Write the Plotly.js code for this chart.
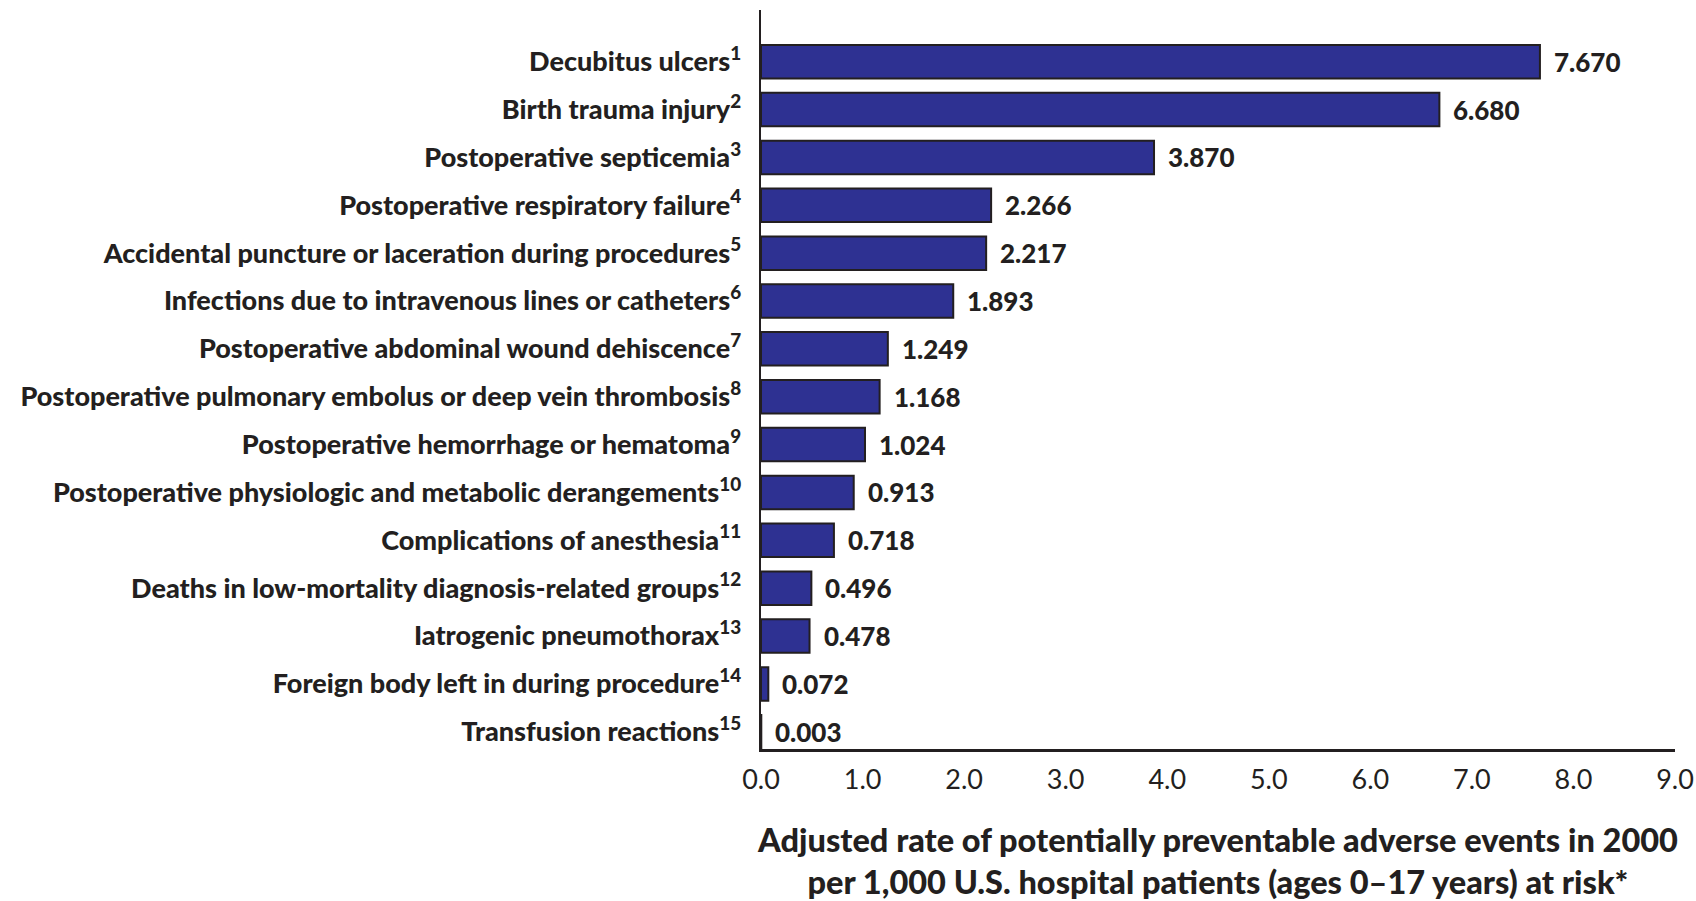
<!DOCTYPE html>
<html>
<head>
<meta charset="utf-8">
<script src="https://cdn.plot.ly/plotly-3.0.1.min.js"></script>
<style>html,body{margin:0;padding:0;background:#fff;}#chart{width:1696px;height:901px;}</style>
</head>
<body>
<div id="chart"></div>
<script>
const categories = [
  "Decubitus ulcers",
  "Birth trauma injury",
  "Postoperative septicemia",
  "Postoperative respiratory failure",
  "Accidental puncture or laceration during procedures",
  "Infections due to intravenous lines or catheters",
  "Postoperative abdominal wound dehiscence",
  "Postoperative pulmonary embolus or deep vein thrombosis",
  "Postoperative hemorrhage or hematoma",
  "Postoperative physiologic and metabolic derangements",
  "Complications of anesthesia",
  "Deaths in low-mortality diagnosis-related groups",
  "Iatrogenic pneumothorax",
  "Foreign body left in during procedure",
  "Transfusion reactions"
];
const footnotes = ["1","2","3","4","5","6","7","8","9","10","11","12","13","14","15"];
const rates = [7.670, 6.680, 3.870, 2.266, 2.217, 1.893, 1.249, 1.168, 1.024, 0.913, 0.718, 0.496, 0.478, 0.072, 0.003];
const xTickVals = [0,1,2,3,4,5,6,7,8,9];
const xTickText = ["0.0","1.0","2.0","3.0","4.0","5.0","6.0","7.0","8.0","9.0"];
const xTitle = "Adjusted rate of potentially preventable adverse events in 2000<br>per 1,000 U.S. hospital patients (ages 0–17 years) at risk*";

const FONT = "Lato, 'Open Sans', sans-serif";
const INK = "#231f20";

const yLabels = categories.map((c, i) => c + "<sup>" + footnotes[i] + "</sup>");

const trace = {
  type: "bar",
  orientation: "h",
  x: rates,
  y: yLabels,
  marker: { color: "#2e3192", line: { color: INK, width: 2 } },
  hoverinfo: "x+y"
};

const annotations = rates.map((v, i) => ({
  x: v, y: yLabels[i], xref: "x", yref: "y",
  text: v.toFixed(3),
  showarrow: false, xanchor: "left", yanchor: "middle", xshift: 12,
  font: { family: FONT, size: 26, color: INK, weight: 900 }
}));

const layout = {
  width: 1696, height: 901,
  margin: { l: 761, r: 21, t: 10, b: 152 },
  paper_bgcolor: "#fff", plot_bgcolor: "#fff",
  showlegend: false,
  bargap: 0.30,
  font: { family: FONT, color: INK },
  xaxis: {
    range: [0, 9],
    tickvals: xTickVals, ticktext: xTickText,
    showgrid: false, zeroline: false,
    showline: true, linecolor: INK, linewidth: 2.5,
    ticks: "outside", ticklen: 5, tickcolor: "rgba(0,0,0,0)",
    tickfont: { family: FONT, size: 27, color: INK },
    title: { text: xTitle, font: { family: FONT, size: 32.5, color: INK, weight: 900 }, standoff: 36 },
    automargin: false
  },
  yaxis: {
    type: "category",
    categoryorder: "array", categoryarray: yLabels,
    range: [14.36, -1.08],
    showgrid: false, zeroline: false,
    showline: true, linecolor: INK, linewidth: 2.5,
    ticks: "outside", ticklen: 12, tickcolor: "rgba(0,0,0,0)",
    tickfont: { family: FONT, size: 27, color: INK, weight: 900 },
    automargin: false
  },
  annotations: annotations
};

Plotly.newPlot("chart", [trace], layout, { displayModeBar: false, staticPlot: true });
</script>
</body>
</html>
